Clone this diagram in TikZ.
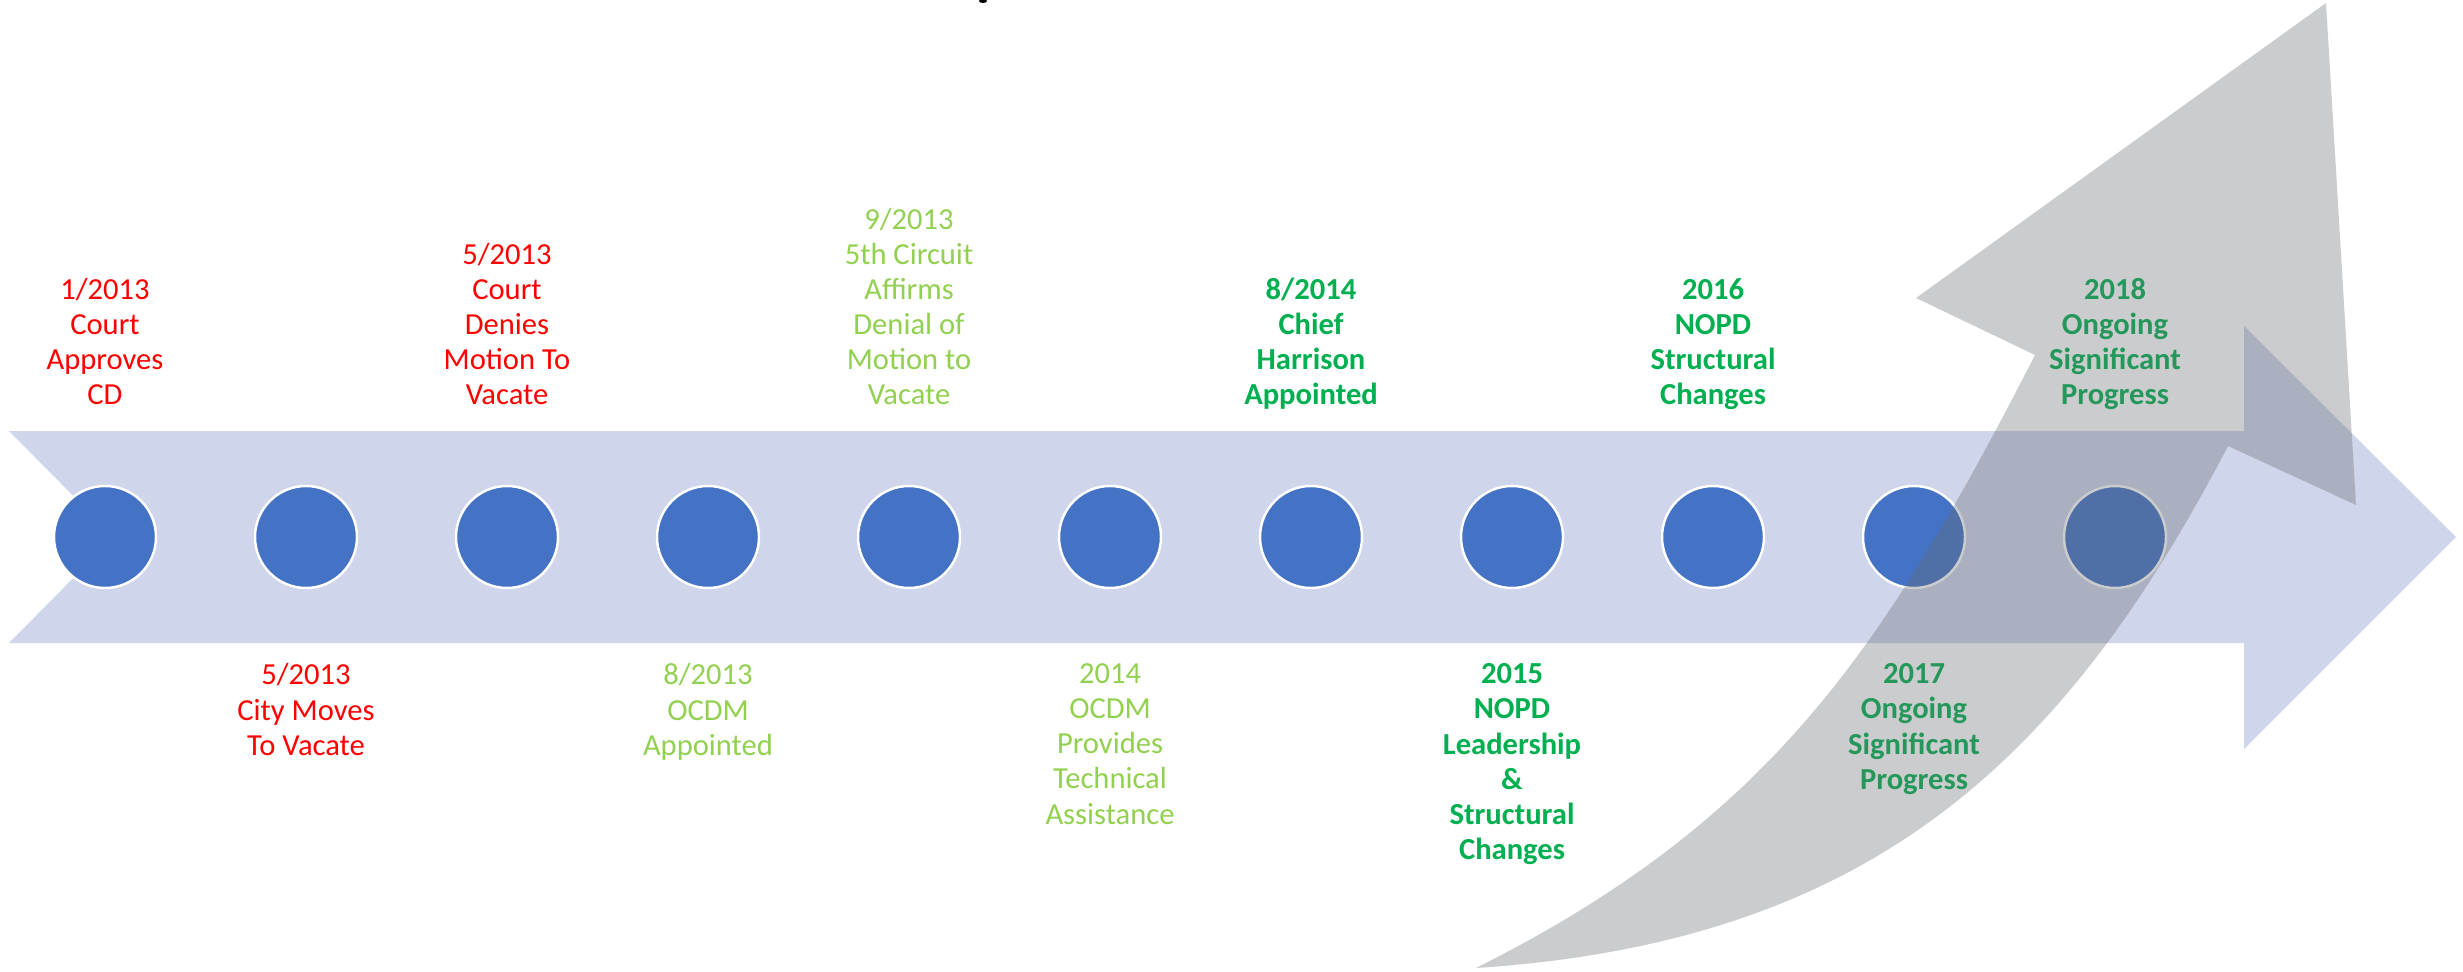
\documentclass[tikz,border=0pt]{standalone}
\usepackage{fontspec}
\setmainfont{Carlito}
\usepackage{tikz}
\usetikzlibrary{positioning}
\definecolor{bandblue}{RGB}{207,213,234}
\definecolor{dotblue}{RGB}{68,114,196}
\definecolor{redtxt}{RGB}{255,0,0}
\definecolor{ltgreen}{RGB}{146,208,80}
\definecolor{dkgreen}{RGB}{0,176,80}
\definecolor{arrowgray}{RGB}{106,108,114}
\newcommand{\evfont}{\fontsize{8.7}{10}\selectfont}

\begin{document}
\begin{tikzpicture}[x=0.1mm,y=-0.1mm,
  dot/.style={draw=white,circle,fill=dotblue,line width=0.7pt,minimum size=10.2mm,inner sep=0pt},
  toplbl/.style={anchor=south,align=center,inner sep=0pt,font=\evfont,
    execute at begin node=\strut,execute at end node=\strut},
  botlbl/.style={toplbl,anchor=north},
  early/.style={text=redtxt},
  mid/.style={text=ltgreen},
  late/.style={text=dkgreen,font=\evfont\bfseries}]
\useasboundingbox (0,0) rectangle (2463,972);
% timeline band
\fill[bandblue] (9,431) -- (2244,431) -- (2244,326) -- (2456,537) -- (2244,749)
  -- (2244,643) -- (9,643) -- (114,537) -- cycle;
\fill (983,1) ellipse (4 and 2);
%
\node[dot] (1) at (105,537) {};
\node[dot] (2) at (306,537) {};
\node[dot] (3) at (507,537) {};
\node[dot] (4) at (708,537) {};
\node[dot] (5) at (909,537) {};
\node[dot] (6) at (1110,537) {};
\node[dot] (7) at (1311,537) {};
\node[dot] (8) at (1512,537) {};
\node[dot] (9) at (1713,537) {};
\node[dot] (10) at (1914,537) {};
\node[dot] (11) at (2115,537) {};
%
\node[toplbl,early] (t1) at (105,416) {1/2013\\Court\\Approves\\CD};
\node[toplbl,early] (t3) at (507,416) {5/2013\\Court\\Denies\\Motion To\\Vacate};
\node[toplbl,mid] (t5) at (909,416) {9/2013\\5th Circuit\\Affirms\\Denial of\\Motion to\\Vacate};
\node[toplbl,late] (t7) at (1311,416) {8/2014\\Chief\\Harrison\\Appointed};
\node[toplbl,late] (t9) at (1713,416) {2016\\NOPD\\Structural\\Changes};
\node[toplbl,late] (t11) at (2115,416) {2018\\Ongoing\\Significant\\Progress};
%
\node[botlbl,early] (b2) at (306,663) {5/2013\\City Moves\\To Vacate};
\node[botlbl,mid] (b4) at (708,663) {8/2013\\OCDM\\Appointed};
\node[botlbl,mid] (b6) at (1110,663) {2014\\OCDM\\Provides\\Technical\\Assistance};
\node[botlbl,late] (b8) at (1512,663) {2015\\NOPD\\Leadership\\\&\\Structural\\Changes};
\node[botlbl,late] (b10) at (1914,663) {2017\\Ongoing\\Significant\\Progress};
% curved progress arrow
\fill[arrowgray,opacity=0.35] (1476,968) .. controls (1771,820) and (1884,649) .. (2035,355)
  -- (1916,298) -- (2326,3) -- (2356,505) -- (2228,446)
  .. controls (2066,756) and (1875,942) .. (1476,968) -- cycle;
\end{tikzpicture}
\end{document}
